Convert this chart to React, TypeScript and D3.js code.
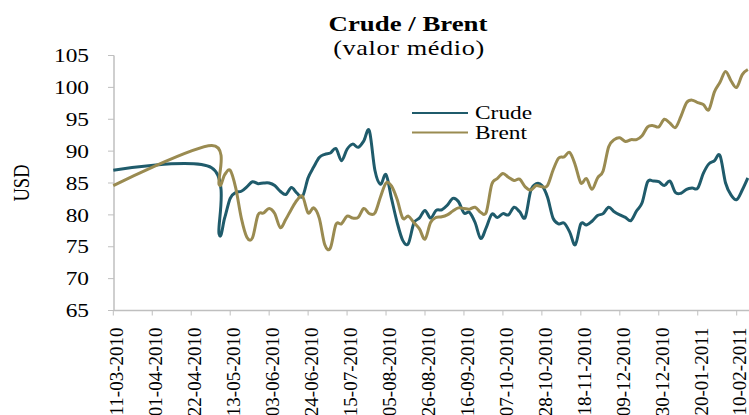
import React from 'react';
import * as d3 from 'd3';

// day offsets from 11-03-2010 for each observation
const startDate = new Date(2010, 2, 11);
const dayOffsets = [
    0, 53, 57, 60, 63, 66, 69, 72, 75, 78, 81, 84, 87, 90, 93, 96, 99, 102, 105, 108,
    111, 114, 117, 120, 123, 126, 129, 132, 135, 138, 141, 144, 147, 150, 153, 156, 159, 162, 165, 168,
    171, 174, 177, 180, 183, 186, 189, 192, 195, 198, 201, 204, 207, 210, 213, 216, 219, 222, 225, 228,
    231, 234, 237, 240, 243, 246, 249, 252, 255, 258, 261, 264, 267, 270, 273, 276, 279, 282, 285, 288,
    291, 294, 297, 300, 303, 306, 309, 312, 315, 318, 321, 324, 327, 330, 333, 336, 339, 342,
];

const crude = [
    87.0, 87.4, 77.0, 79.5, 82.6, 83.5, 83.7, 84.4, 85.2, 84.9, 85.0, 85.0, 84.6, 83.7, 83.2, 84.3, 83.4, 82.9, 85.8, 87.5,
    89.0, 89.5, 89.7, 90.4, 88.5, 90.3, 91.1, 90.6, 91.6, 93.2, 87.0, 84.8, 86.3, 82.5, 78.8, 76.0, 75.5, 78.7, 79.5, 80.7,
    79.5, 80.7, 80.8, 81.5, 82.6, 82.1, 80.3, 80.4, 78.8, 76.3, 78.0, 80.1, 79.6, 80.2, 80.0, 81.2, 80.5, 79.6, 83.8, 84.9,
    84.6, 82.8, 79.5, 78.6, 78.7, 77.3, 75.3, 78.6, 78.4, 79.0, 79.9, 80.2, 81.2, 80.5, 80.0, 79.6, 79.1, 80.6, 81.9, 85.2,
    85.3, 85.2, 84.6, 85.3, 83.5, 83.4, 84.0, 84.2, 84.2, 86.5, 88.0, 88.5, 89.3, 85.0, 83.1, 82.4, 83.9, 85.8,
];

const brent = [
    84.6, 90.9, 84.8, 86.3, 87.0, 84.2, 79.5, 76.5, 76.4, 80.0, 80.3, 81.0, 80.2, 78.0, 79.3, 80.9, 82.3, 82.9, 80.3, 81.1,
    79.5, 75.3, 74.8, 78.5, 78.6, 79.8, 79.5, 79.6, 81.0, 80.2, 80.3, 82.8, 85.0, 84.5, 82.4, 79.5, 79.8, 78.8, 77.8, 76.2,
    78.8, 79.6, 79.7, 80.0, 80.6, 81.1, 81.0, 80.9, 81.2, 80.4, 80.4, 84.8, 85.7, 86.5, 85.9, 85.4, 85.6, 84.4, 83.9, 84.6,
    84.4, 84.6, 87.0, 88.9, 89.1, 89.8, 87.8, 85.0, 85.7, 84.0, 85.8, 86.9, 90.7, 91.8, 92.1, 91.5, 91.8, 91.8, 92.4, 93.8,
    94.0, 93.8, 95.0, 94.4, 93.7, 95.5, 97.6, 98.0, 97.6, 97.3, 96.5, 99.3, 100.8, 102.5, 101.0, 100.0, 102.0, 102.8,
];

const yTicks = [65, 70, 75, 80, 85, 90, 95, 100, 105];
const tickStepDays = 21;
const tickCount = 17;

const seriesNames = ['Crude', 'Brent'];
const colors = ['#1f5b6b', '#9a8b51'];

const W = 749;
const H = 415;
const font = '"Liberation Serif", "Times New Roman", serif';

const addDays = (d: Date, n: number) => new Date(d.getFullYear(), d.getMonth(), d.getDate() + n);

// the reference text is drawn a bit wide, so stretch it horizontally
const Wide = ({ x, y, sx = 1.25, children, ...rest }: any) => (
    <text transform={`translate(${x},${y}) scale(${sx},1)`} {...rest}>{children}</text>
);

export default function App() {
    const x = d3.scaleTime()
        .domain([startDate, addDays(startDate, tickStepDays * (tickCount - 1))])
        .range([113.3, 736.7]);
    const y = d3.scaleLinear().domain([65, 105]).range([310.5, 55.5]);

    const dates = dayOffsets.map(o => addDays(startDate, o));
    const xTicks = d3.range(tickCount).map(i => addDays(startDate, i * tickStepDays));
    const fmt = d3.timeFormat('%d-%m-%Y');

    const line = d3.line<number>()
        .x((_, i) => x(dates[i]))
        .y(v => y(v))
        .curve(d3.curveCatmullRom.alpha(0));

    const series = [crude, brent];
    const axisColor = '#bfbfbf';

    return (
        <svg width={W} height={H} style={{ position: 'absolute', left: 0, top: 0, background: '#fff' }} fontFamily={font}>
            <Wide x={408} y={31} sx={1.22} textAnchor="middle" fontSize={22} fontWeight="bold">Crude / Brent</Wide>
            <Wide x={409} y={55} sx={1.25} textAnchor="middle" fontSize={21} letterSpacing={0.5}>(valor médio)</Wide>

            {/* y axis */}
            <line x1={114} x2={114} y1={y(105)} y2={y(65)} stroke={axisColor} strokeWidth={1.5} />
            {yTicks.map(t => (
                <g key={t}>
                    <line x1={108} x2={114} y1={y(t)} y2={y(t)} stroke={axisColor} strokeWidth={1} />
                    <Wide x={89} y={y(t)} sx={1.23} dy="0.35em" textAnchor="end" fontSize={19}>{t}</Wide>
                </g>
            ))}
            <text transform={`translate(29,${y(85)}) scale(1.3,1) rotate(-90)`} textAnchor="middle" fontSize={18.5}>USD</text>

            {/* x axis */}
            <line x1={114} x2={W} y1={y(65)} y2={y(65)} stroke={axisColor} strokeWidth={1.5} />
            {xTicks.map(t => (
                <g key={+t}>
                    <line x1={x(t)} x2={x(t)} y1={y(65)} y2={y(65) + 5} stroke={axisColor} strokeWidth={1} />
                    <text transform={`translate(${x(t) + 3.5},${y(65) + 17}) rotate(-90)`} dy="0.33em"
                        textAnchor="end" fontSize={19}>{fmt(t)}</text>
                </g>
            ))}

            {series.map((s, i) => (
                <path key={seriesNames[i]} d={line(s) ?? ''} fill="none" stroke={colors[i]}
                    strokeWidth={3} strokeLinejoin="round" />
            ))}

            {/* legend */}
            {seriesNames.map((n, i) => (
                <g key={n} transform={`translate(412,${113 + i * 19.5})`}>
                    <line x1={0} x2={56} y1={0} y2={0} stroke={colors[i]} strokeWidth={2} />
                    <Wide x={63} y={0} sx={1.3} dy="0.35em" fontSize={18}>{n}</Wide>
                </g>
            ))}
        </svg>
    );
}
